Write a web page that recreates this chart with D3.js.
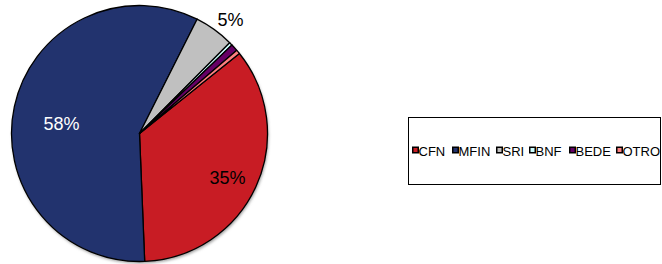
<!DOCTYPE html>
<html>
<head>
<meta charset="utf-8">
<script src="https://cdn.jsdelivr.net/npm/d3@7"></script>
<style>
  body { margin: 0; background: #fff; }
  text { font-family: "Liberation Sans", Arial, sans-serif; }
</style>
</head>
<body>
<svg width="662" height="264"></svg>
<script>
// slice data
const categories = ['CFN', 'MFIN', 'SRI', 'BNF', 'BEDE', 'OTRO'];
const values = [35.0, 57.9, 5.0, 0.4, 0.9, 0.5];
const labels = ['35%', '58%', '5%', '', '', ''];
const colors = ['#C81C24', '#22336E', '#C0C0C0', '#CCFFFF', '#660066', '#FF8080'];

const svg = d3.select('svg');
const cx = 139.5, cy = 133.5, r = 128;
const startAngle = 51.3 * Math.PI / 180;

const pie = d3.pie().sort(null).value(d => d.v)
    .startAngle(startAngle).endAngle(startAngle + 2 * Math.PI);
const arc = d3.arc().innerRadius(0).outerRadius(r);

const data = categories.map((c, i) => ({ c, v: values[i], label: labels[i], color: colors[i] }));
const arcs = pie(data);

// soft shadow under the pie
const defs = svg.append('defs');
defs.append('filter').attr('id', 'blur')
  .append('feGaussianBlur').attr('stdDeviation', 1.5);
svg.append('circle')
    .attr('cx', cx + 1).attr('cy', cy + 2).attr('r', r)
    .attr('fill', '#999').attr('filter', 'url(#blur)');

const g = svg.append('g').attr('transform', `translate(${cx},${cy})`);
g.selectAll('path')
  .data(arcs)
  .enter()
  .append('path')
    .attr('d', arc)
    .attr('fill', d => d.data.color)
    .attr('stroke', '#000')
    .attr('stroke-width', 1.3)
    .attr('stroke-linejoin', 'round');

// percentage labels (positions in px from centre)
const labelPos = { CFN: [88, 50], MFIN: [-78, -4], SRI: [91, -108] };
const labelColor = { CFN: '#000', MFIN: '#fff', SRI: '#000' };
g.selectAll('text.pct')
  .data(arcs.filter(d => d.data.label))
  .enter()
  .append('text')
    .attr('class', 'pct')
    .attr('x', d => labelPos[d.data.c][0])
    .attr('y', d => labelPos[d.data.c][1])
    .attr('text-anchor', 'middle')
    .attr('font-size', 18)
    .attr('fill', d => labelColor[d.data.c])
    .text(d => d.data.label);

// legend box
const legend = svg.append('g');
legend.append('rect')
    .attr('x', 408.5).attr('y', 117.5)
    .attr('width', 252).attr('height', 67)
    .attr('fill', '#fff').attr('stroke', '#000').attr('stroke-width', 1);

const itemX = [412, 452, 496, 529, 569, 616];
const item = legend.selectAll('g.item')
  .data(data)
  .enter()
  .append('g')
    .attr('class', 'item')
    .attr('transform', (d, i) => `translate(${itemX[i]},150)`);
item.append('rect')
    .attr('x', 0.75).attr('y', -2.75)
    .attr('width', 5.5).attr('height', 5.5)
    .attr('fill', d => d.color)
    .attr('stroke', '#000').attr('stroke-width', 1.5);
item.append('text')
    .attr('x', 6.5).attr('y', 5.5)
    .attr('font-size', 13)
    .text(d => d.c);
</script>
</body>
</html>
